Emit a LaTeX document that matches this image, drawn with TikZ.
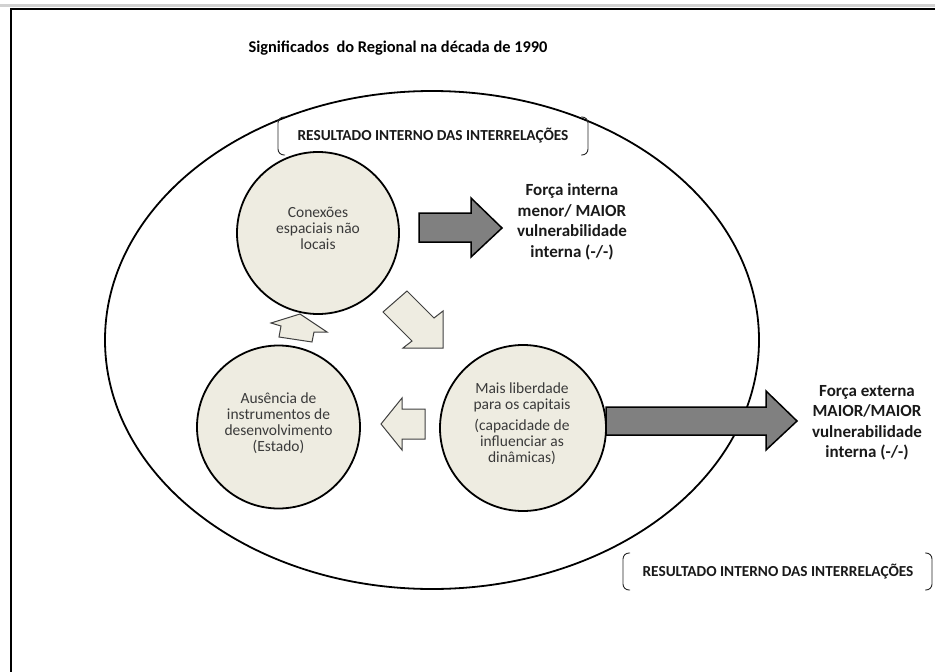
\documentclass[tikz,border=0pt]{standalone}
\usepackage{fontspec}
\setmainfont{Carlito}
\definecolor{tan}{HTML}{EEECE1}
\definecolor{darkarrow}{HTML}{808080}
\definecolor{txtgray}{HTML}{3A3A3A}
\begin{document}
\begin{tikzpicture}[x=1pt,y=-1pt,
  circ/.style={circle,draw=black,line width=1.8pt,fill=tan,minimum size=#1,inner sep=0pt},
  circtext/.style={align=center,text=txtgray,font=\fontsize{15.5}{16}\selectfont},
  boldlabel/.style={align=center,text=black!90,font=\bfseries\fontsize{17}{20.5}\selectfont},
  brlabel/.style={text=black!90,font=\bfseries\fontsize{15.3}{17}\selectfont},
  darkarr/.style={fill=darkarrow,draw=black,line width=1.5pt,line join=miter},
  lightarr/.style={fill=tan,draw=black!75,line width=1pt,line join=miter},
  bracket/.style={draw=black!85,line width=0.9pt,rounded corners=6pt},
  frame/.style={draw=black,line width=2pt}]
\useasboundingbox (0,0) rectangle (935,672);
% top gray strip and frame
\fill[black!18] (0,3.5) rectangle (935,7);
\draw[frame] (11,700) -- (11,9) -- (950,9);
% title
\node[font=\bfseries\fontsize{16.4}{19}\selectfont] (title) at (398,48) {Significados\ \ do Regional na década de 1990};
% big ellipse
\draw[line width=1.8pt] (432,340) ellipse [x radius=327, y radius=249];
% top bracket label
\draw[bracket] (285,117) -- (278,117) -- (278,155) -- (285,155);
\draw[bracket] (581,117) -- (588,117) -- (588,155) -- (581,155);
\node[brlabel] (brtop) at (433,136) {RESULTADO INTERNO DAS INTERRELAÇÕES};
% bottom bracket label
\draw[bracket] (630,553) -- (623,553) -- (623,590) -- (630,590);
\draw[bracket] (925,553) -- (932,553) -- (932,590) -- (925,590);
\node[brlabel] (brbot) at (778,572) {RESULTADO INTERNO DAS INTERRELAÇÕES};
% circles
\node[circ=162pt] (c1) at (318,233) {};
\node[circtext] (t1) at (318,228) {Conexões\\espaciais não\\locais};
\node[circ=163pt] (c2) at (278.5,427) {};
\node[circtext] (t2) at (278.5,423) {Ausência de\\instrumentos de\\desenvolvimento\\(Estado)};
\node[circ=166pt] (c3) at (523,428) {};
\node[circtext] (t3) at (522,424) {Mais liberdade\\para os capitais\\[5pt](capacidade de\\influenciar as\\dinâmicas)};
% dark arrows
\draw[darkarr] (419,213) -- (471,213) -- (471,198) -- (502,228) -- (471,257) -- (471,242) -- (419,242) -- cycle;
\draw[darkarr] (606,407) -- (766,407) -- (766,391) -- (797,421) -- (766,450) -- (766,435) -- (606,435) -- cycle;
% light cycle arrows
\draw[lightarr] (383,312) -- (407,291) -- (434,318) -- (443,311) -- (443,348) -- (403,348) -- (412,341) -- cycle;
\draw[lightarr] (381,424) -- (402,398) -- (402,409) -- (425,409) -- (425,439) -- (402,439) -- (402,450) -- cycle;
\draw[lightarr] (300,314) -- (327,332) -- (314,332) -- (312,342) -- (279,337) -- (281,326) -- (271,323) -- cycle;
% outcome labels
\node[boldlabel] (f1) at (572,222) {Força interna\\menor/ MAIOR\\vulnerabilidade\\interna (-/-)};
\node[boldlabel] (f2) at (867,423) {Força externa\\MAIOR/MAIOR\\vulnerabilidade\\interna (-/-)};
\end{tikzpicture}
\end{document}
